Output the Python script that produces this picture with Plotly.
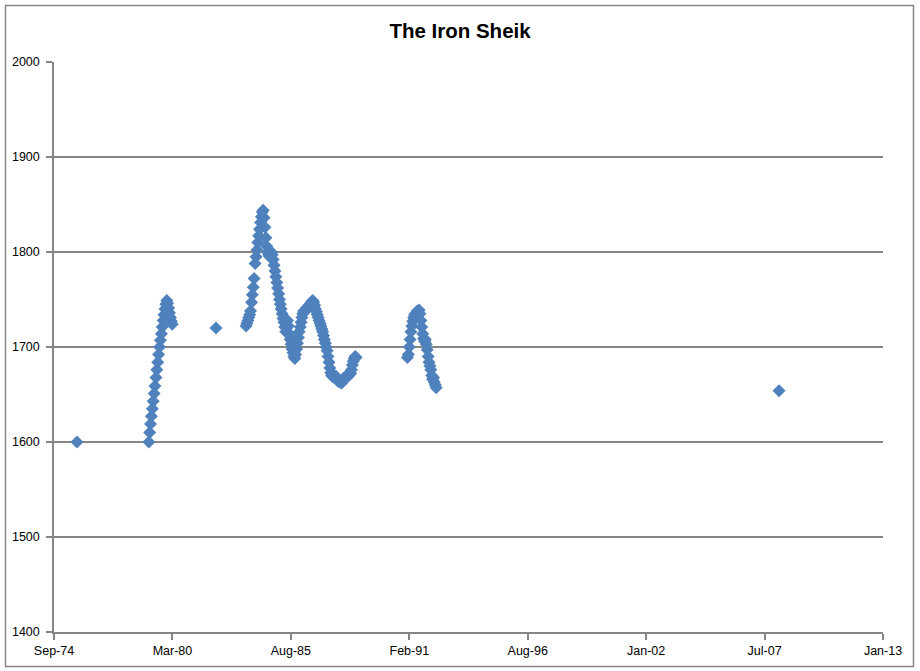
import pandas as pd
import plotly.graph_objects as go
from datetime import datetime, timedelta

# ---- data ----
single_dates = ["1975-10-06", "1982-03-11", "2008-03-22"]
single_ratings = [1600, 1720, 1654]

# 1979-80 run (semi-monthly from 1979-02-01)
run1_start = "1979-02-01"
run1_ratings = [1600, 1610, 1619, 1627, 1635, 1643, 1651, 1659, 1668, 1676,
                1684, 1692, 1700, 1707, 1714, 1721, 1728, 1734, 1740, 1745,
                1749, 1746, 1741, 1736, 1731, 1727, 1724]

# 1983-88 run (semi-monthly from 1983-08-01)
run2_start = "1983-08-01"
run2_ratings = [1722, 1725, 1728, 1731, 1734, 1738, 1747, 1755, 1763, 1772,
                1788, 1795, 1802, 1810, 1817, 1824, 1831, 1837, 1842, 1844,
                1836, 1826, 1815, 1806, 1800, 1797, 1795, 1798, 1800, 1797,
                1792, 1786, 1780, 1774, 1768, 1762, 1756, 1750, 1745, 1740,
                1735, 1730, 1726, 1721, 1716, 1720, 1728, 1722, 1714, 1708,
                1703, 1698, 1694, 1690, 1688, 1692, 1698, 1704, 1710, 1716,
                1721, 1726, 1731, 1735, 1738, 1737, 1739, 1741, 1740, 1742,
                1744, 1745, 1746, 1748, 1749, 1747, 1744, 1740, 1737, 1734,
                1731, 1728, 1725, 1722, 1719, 1716, 1712, 1708, 1704, 1700,
                1696, 1690, 1684, 1678, 1673, 1670, 1669, 1671, 1668, 1667,
                1669, 1666, 1664, 1665, 1663, 1664, 1662, 1665, 1667, 1666,
                1668, 1667, 1669, 1671, 1670, 1673, 1672, 1676, 1681, 1685,
                1688, 1690, 1689]

# 1991-92 run (semi-monthly from 1991-01-15)
run3_start = "1991-01-15"
run3_ratings = [1689, 1692, 1700, 1708, 1716, 1722, 1727, 1731, 1734, 1733,
                1736, 1738, 1737, 1739, 1735, 1728, 1721, 1714, 1709, 1706,
                1708, 1703, 1697, 1690, 1684, 1680, 1676, 1670, 1666, 1668,
                1663, 1660, 1657]

tick_labels = ["Sep-74", "Mar-80", "Aug-85", "Feb-91", "Aug-96", "Jan-02", "Jul-07", "Jan-13"]
y_min, y_max, y_step = 1400, 2000, 100
title_text = "The Iron Sheik"

# ---- assemble ----
dates = []
ratings = []
for start, vals in [(run1_start, run1_ratings), (run2_start, run2_ratings), (run3_start, run3_ratings)]:
    d = pd.date_range(start, periods=len(vals), freq="SMS")
    dates += list(d)
    ratings += vals
dates += [pd.Timestamp(s) for s in single_dates]
ratings += single_ratings

axis_start = datetime(1974, 9, 13)
tickvals = [axis_start + timedelta(days=2000 * k) for k in range(len(tick_labels))]
axis_end = tickvals[-1]

GRAY = "#868686"
fig = go.Figure()
fig.add_trace(go.Scatter(
    x=dates, y=ratings, mode="markers",
    marker=dict(symbol="diamond", size=10, color="#4F81BD", line=dict(width=0)),
    showlegend=False,
))

W, H = 920, 671
L, T, R, B = 54, 62, 920 - 883, 671 - 632
pw, ph = W - L - R, H - T - B

def px_x(x):  # page x -> paper
    return (x - L) / pw

def px_y(y):  # page y -> paper
    return (H - B - y) / ph

fig.update_layout(
    width=W, height=H, autosize=False,
    margin=dict(l=L, r=R, t=T, b=B, autoexpand=False),
    paper_bgcolor="white", plot_bgcolor="white",
    title=dict(text="<b>" + title_text + "</b>", x=0.5, xanchor="center",
               y=1 - 31 / H, yanchor="middle",
               font=dict(family="Liberation Sans, Arial", size=20.5, color="black")),
    font=dict(family="Liberation Sans, Arial", size=12.5, color="black"),
    xaxis=dict(
        type="date", range=[axis_start, axis_end], automargin=False,
        tickvals=tickvals, ticktext=tick_labels,
        showgrid=False, zeroline=False,
        showline=True, linecolor=GRAY, linewidth=1.5,
        ticks="outside", ticklen=6, tickcolor=GRAY, tickwidth=1.5,
        tickfont=dict(size=12.5),
    ),
    yaxis=dict(
        range=[y_min, y_max], dtick=y_step, tick0=y_min, automargin=False,
        showgrid=True, gridcolor=GRAY, gridwidth=1.5, zeroline=False,
        showline=True, linecolor=GRAY, linewidth=1.5,
        ticks="outside", ticklen=6, tickcolor=GRAY, tickwidth=1.5,
        tickfont=dict(size=12.5), ticklabelstandoff=4,
    ),
    shapes=[dict(
        type="rect", xref="paper", yref="paper",
        x0=px_x(5.5), x1=px_x(913.5),
        y0=px_y(666.5), y1=px_y(5.5),
        line=dict(color=GRAY, width=1.5), fillcolor="rgba(0,0,0,0)", layer="below",
    )],
)

fig.write_html("out.html", config={"displayModeBar": False},
               post_script="document.body.style.margin='0';document.body.style.padding='0';")
